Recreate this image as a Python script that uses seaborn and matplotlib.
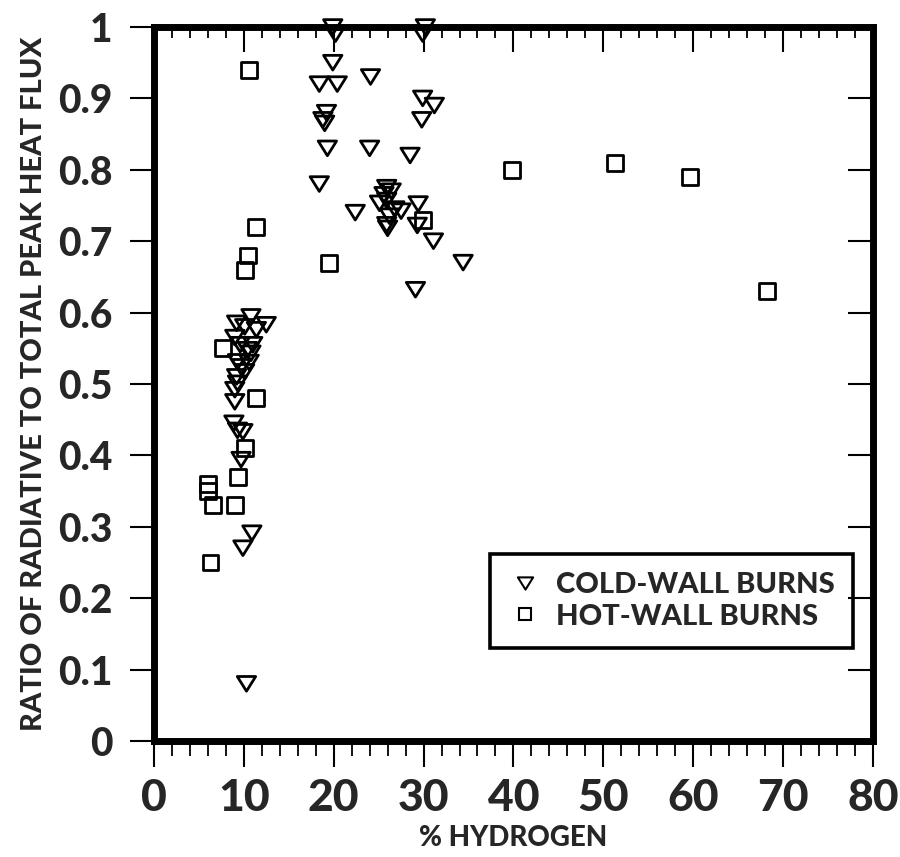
import numpy as np
import pandas as pd
import matplotlib
matplotlib.use("Agg")
import matplotlib.pyplot as plt
from matplotlib.path import Path
from matplotlib.lines import Line2D
from matplotlib.ticker import MultipleLocator, FixedLocator
import seaborn as sns

# Cold-wall burns: % hydrogen vs radiative/total peak heat flux ratio
cold_x = [19.9, 20.2, 30.2, 29.9,
          19.9, 18.4, 20.4, 24.1,
          29.9, 31.2, 29.8,
          19.2, 18.8, 19.0,
          19.3, 24.0, 28.5, 18.4,
          22.4,
          25.9, 26.4, 25.6, 25.1, 25.9, 26.8, 27.5, 26.2, 25.9, 26.0,
          29.4, 29.3, 31.1, 34.4, 29.1,
          10.8, 9.2, 12.5, 11.4, 10.1, 9.0, 10.4, 10.8, 9.3, 9.7,
          10.1, 9.2, 9.3, 9.0, 9.0, 10.6, 11.0, 9.6,
          8.9, 9.3, 9.9, 9.7,
          10.9, 9.9, 10.3]
cold_y = [1.00, 0.99, 1.00, 0.99,
          0.95, 0.92, 0.92, 0.93,
          0.90, 0.89, 0.87,
          0.88, 0.87, 0.865,
          0.83, 0.83, 0.82, 0.78,
          0.74,
          0.775, 0.77, 0.765, 0.753, 0.757, 0.745, 0.742, 0.735, 0.723, 0.718,
          0.752, 0.722, 0.70, 0.67, 0.632,
          0.594, 0.585, 0.583, 0.576, 0.58, 0.565, 0.548, 0.543, 0.531, 0.524,
          0.517, 0.51, 0.501, 0.492, 0.475, 0.53, 0.555, 0.555,
          0.445, 0.435, 0.433, 0.394,
          0.291, 0.27, 0.08]

# Hot-wall burns
hot_x = [10.6, 11.4, 10.5, 10.1, 7.7, 11.4, 10.1, 9.4,
         6.0, 6.0, 6.6, 9.0, 6.3,
         19.5, 29.9, 39.8, 51.3, 59.6, 68.2]
hot_y = [0.94, 0.72, 0.68, 0.66, 0.55, 0.48, 0.41, 0.37,
         0.36, 0.35, 0.33, 0.33, 0.25,
         0.67, 0.73, 0.80, 0.81, 0.79, 0.63]

series_names = ["COLD-WALL BURNS", "HOT-WALL BURNS"]
x_ticks = [0, 10, 20, 30, 40, 50, 60, 70, 80]
y_ticks = [0, 0.1, 0.2, 0.3, 0.4, 0.5, 0.6, 0.7, 0.8, 0.9, 1.0]
y_tick_labels = ["0", "0.1", "0.2", "0.3", "0.4", "0.5", "0.6", "0.7", "0.8", "0.9", "1"]

df = pd.DataFrame({
    "hydrogen": cold_x + hot_x,
    "ratio": cold_y + hot_y,
    "kind": [series_names[0]] * len(cold_x) + [series_names[1]] * len(hot_x),
})

sns.set_style("white")
plt.rcParams["font.family"] = ["Lato", "DejaVu Sans"]
plt.rcParams["font.weight"] = 900
HEAVY = 900

# down-pointing triangle, a little wider than tall
tri = Path([(-1.0, 0.8), (1.0, 0.8), (0.0, -0.8), (-1.0, 0.8)],
           [Path.MOVETO, Path.LINETO, Path.LINETO, Path.CLOSEPOLY])

fig = plt.figure(figsize=(9, 8.57), dpi=100)
ax = fig.add_axes([0.171, 0.1354, 0.799, 0.8331])

sns.scatterplot(data=df, x="hydrogen", y="ratio", style="kind", size="kind",
                markers={series_names[0]: tri, series_names[1]: "s"},
                sizes={series_names[0]: 175, series_names[1]: 130},
                linewidth=2.0, legend=False, ax=ax, zorder=5)
for coll in ax.collections:
    coll.set_facecolor("none")
    coll.set_edgecolor("black")
    coll.set_clip_on(False)

ax.set_xlim(0, 80)
ax.set_ylim(0, 1)

for side in ["left", "right", "top", "bottom"]:
    ax.spines[side].set_visible(True)
    ax.spines[side].set_linewidth(5)
    ax.spines[side].set_color("black")

# bottom / left: outward ticks with labels
ax.xaxis.set_major_locator(FixedLocator(x_ticks))
ax.xaxis.set_minor_locator(MultipleLocator(2))
ax.yaxis.set_major_locator(FixedLocator(y_ticks))
ax.set_yticklabels(y_tick_labels)
ax.tick_params(axis="x", which="major", direction="out", length=19, width=1.5,
               color="black", labelsize=32, pad=8, bottom=True, top=False)
ax.tick_params(axis="x", which="minor", direction="out", length=11, width=1.3,
               color="black", bottom=True, top=False)
ax.tick_params(axis="y", which="major", direction="out", length=17, width=1.5,
               color="black", labelsize=28, pad=13, left=True, right=False)
for lab in ax.get_xticklabels() + ax.get_yticklabels():
    lab.set_fontweight(HEAVY)

# top / right: inward ticks without labels
axt = ax.twiny()
axt.set_xlim(0, 80)
axt.xaxis.set_major_locator(FixedLocator(x_ticks))
axt.xaxis.set_minor_locator(MultipleLocator(2))
axt.tick_params(axis="x", which="major", direction="in", length=18, width=1.5,
                color="black", labeltop=False, top=True)
axt.tick_params(axis="x", which="minor", direction="in", length=8, width=1.3,
                color="black", top=True)
axr = ax.twinx()
axr.set_ylim(0, 1)
axr.yaxis.set_major_locator(FixedLocator(y_ticks))
axr.tick_params(axis="y", which="major", direction="in", length=18, width=1.5,
                color="black", labelright=False, right=True)
for a in (axt, axr):
    for sp in a.spines.values():
        sp.set_visible(False)

ax.set_xlabel("% HYDROGEN", fontsize=20, fontweight=HEAVY, labelpad=5)
ax.set_ylabel("RATIO OF RADIATIVE TO TOTAL PEAK HEAT FLUX", fontsize=21,
              fontweight=HEAVY, labelpad=8)

handles = [
    Line2D([], [], linestyle="none", marker=tri, markersize=11,
           markerfacecolor="none", markeredgecolor="black", markeredgewidth=1.5),
    Line2D([], [], linestyle="none", marker="s", markersize=9,
           markerfacecolor="none", markeredgecolor="black", markeredgewidth=1.5),
]
leg = ax.legend(handles, series_names, loc="center", bbox_to_anchor=(0.72, 0.196),
                frameon=True, fancybox=False, framealpha=1,
                edgecolor="black", borderpad=0.62, labelspacing=0.18,
                handletextpad=0.5, handlelength=1.15,
                prop={"size": 21, "weight": HEAVY})
leg.get_frame().set_linewidth(2.6)
leg.set_zorder(10)

fig.savefig("out.png", dpi=100, facecolor="white")
